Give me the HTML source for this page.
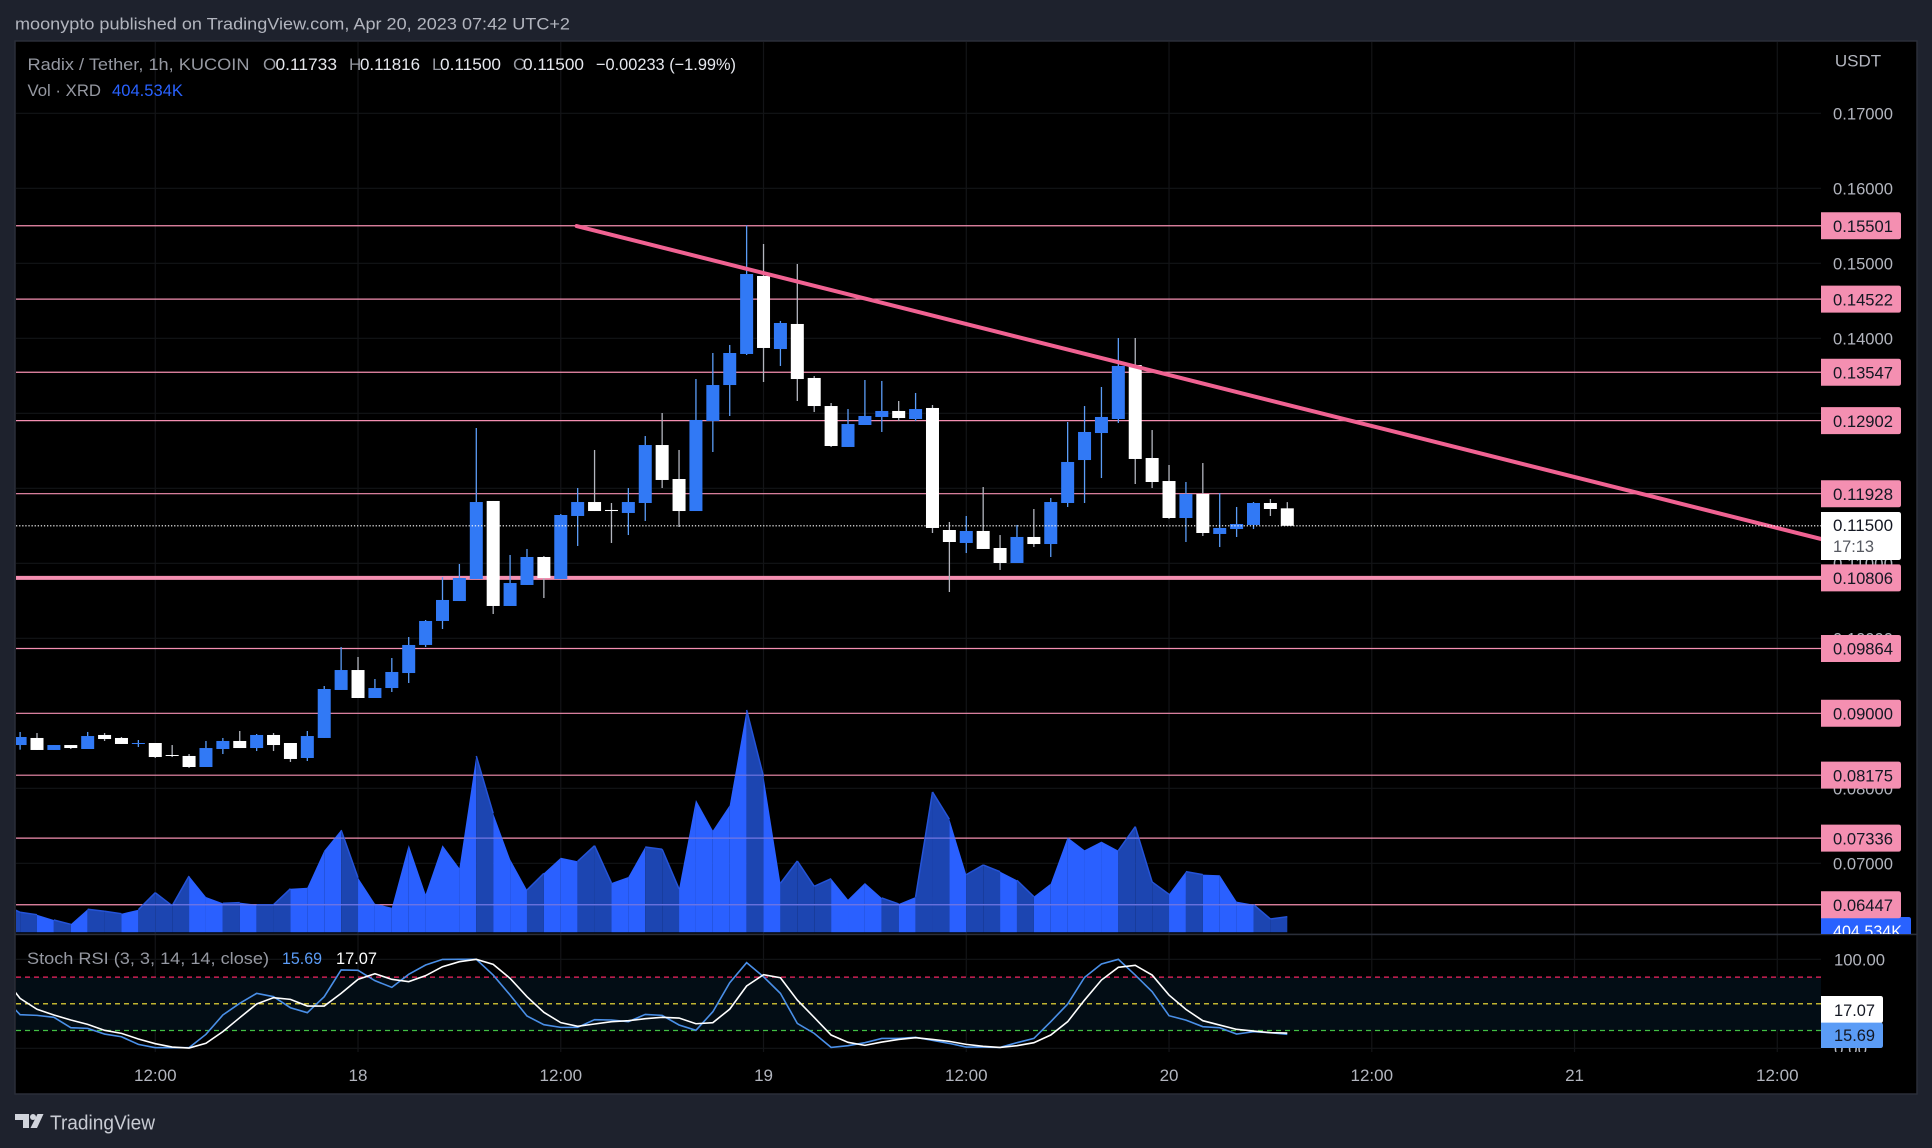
<!DOCTYPE html>
<html lang="en">
<head>
<meta charset="utf-8">
<title>Radix / Tether 1h chart</title>
<style>
html,body{margin:0;padding:0;background:#1e222d;}
svg{display:block;}
text{font-family:"Liberation Sans","DejaVu Sans",sans-serif;}
</style>
</head>
<body>
<svg id="chart" xmlns="http://www.w3.org/2000/svg" width="1932" height="1148" viewBox="0 0 1932 1148">
  <defs>
    <clipPath id="main-clip"><rect x="16" y="42" width="1805" height="892"/></clipPath>
    <clipPath id="stoch-clip"><rect x="16" y="936" width="1805" height="116"/></clipPath>
    <clipPath id="pane-label-clip"><rect x="1821" y="42" width="95" height="892"/></clipPath>
    <clipPath id="stoch-label-clip"><rect x="1821" y="936" width="95" height="116"/></clipPath>
    <clipPath id="volume-clip"><polygon id="volume-clip-shape" points="0,0"/></clipPath>
  </defs>
  <rect x="0" y="0" width="1932" height="1148" fill="#1e222d"/>
  <rect x="15" y="41" width="1902" height="1053" fill="#000000" stroke="#2a2e39" stroke-width="1.5"/>
  <g id="grid-layer"></g>
  <g id="level-layer" clip-path="url(#main-clip)"></g>
  <g id="volume-layer" clip-path="url(#main-clip)"></g>
  <g id="level-overlay-layer" clip-path="url(#volume-clip)"></g>
  <g id="candle-layer" clip-path="url(#main-clip)"></g>
  <g id="drawing-layer" clip-path="url(#main-clip)"></g>
  <g id="stoch-layer" clip-path="url(#stoch-clip)"></g>
  <rect x="15" y="933.6" width="1902" height="1.6" fill="#2a2e39"/>
  <g id="axis-layer"></g>

  <text x="15" y="29.5" font-size="17" fill="#b2b5be" textLength="555" lengthAdjust="spacingAndGlyphs">moonypto published on TradingView.com, Apr 20, 2023 07:42 UTC+2</text>

  <g font-size="17">
    <text x="27.5" y="70" fill="#9598a1" textLength="222" lengthAdjust="spacingAndGlyphs">Radix / Tether, 1h, KUCOIN</text>
    <text x="263" y="70" fill="#9598a1">O</text>
    <text x="275.5" y="70" fill="#e6e8ee" textLength="61.5" lengthAdjust="spacingAndGlyphs">0.11733</text>
    <text x="349" y="70" fill="#9598a1">H</text>
    <text x="360" y="70" fill="#e6e8ee" textLength="60" lengthAdjust="spacingAndGlyphs">0.11816</text>
    <text x="432" y="70" fill="#9598a1">L</text>
    <text x="440" y="70" fill="#e6e8ee" textLength="61" lengthAdjust="spacingAndGlyphs">0.11500</text>
    <text x="513" y="70" fill="#9598a1">C</text>
    <text x="523" y="70" fill="#e6e8ee" textLength="61" lengthAdjust="spacingAndGlyphs">0.11500</text>
    <text x="596" y="70" fill="#e6e8ee" textLength="140" lengthAdjust="spacingAndGlyphs">−0.00233 (−1.99%)</text>
    <text x="27.5" y="96" fill="#9598a1" textLength="73.5" lengthAdjust="spacingAndGlyphs">Vol · XRD</text>
    <text x="112" y="96" fill="#2962ff" textLength="71" lengthAdjust="spacingAndGlyphs">404.534K</text>
  </g>

  <g font-size="17">
    <text x="27" y="964" fill="#9598a1" textLength="242" lengthAdjust="spacingAndGlyphs">Stoch RSI (3, 3, 14, 14, close)</text>
    <text x="282" y="964" fill="#5b9cf6" textLength="40" lengthAdjust="spacingAndGlyphs">15.69</text>
    <text x="336" y="964" fill="#ffffff" textLength="41" lengthAdjust="spacingAndGlyphs">17.07</text>
  </g>

  <g>
    <path d="M15 1114h14v14h-6v-8h-8z" fill="#d1d4dc"/>
    <circle cx="33" cy="1117" r="3" fill="#d1d4dc"/>
    <polygon points="37.5,1114 43.5,1114 37,1128 30.5,1128" fill="#d1d4dc"/>
    <text x="50" y="1129.5" font-size="20" fill="#c8cbd3" textLength="105" lengthAdjust="spacingAndGlyphs">TradingView</text>
  </g>
</svg>

<script>
// ---------- chart data ----------
const candleOpen = [0.08577,0.08671,0.08511,0.08577,0.08524,0.08711,0.08671,0.08595,0.08604,0.08444,
  0.08431,0.08284,0.08524,0.08631,0.08537,0.08711,0.08604,0.08404,0.08671,0.09311,
  0.09577,0.09204,0.09337,0.09537,0.09911,0.10231,0.10497,0.10791,0.11831,0.10431,
  0.10711,0.11084,0.10791,0.11631,0.11817,0.11711,0.11671,0.11804,0.12577,0.12124,
  0.11697,0.12897,0.13377,0.13791,0.14831,0.13857,0.14191,0.13471,0.13097,0.12551,
  0.12844,0.12951,0.13031,0.12924,0.13071,0.11444,0.11271,0.11431,0.11204,0.11004,
  0.11351,0.11257,0.11804,0.12377,0.12737,0.12924,0.13644,0.12404,0.12097,0.11604,
  0.11924,0.11391,0.11457,0.11511,0.11804,0.11733];
const candleHigh = [0.08751,0.08737,0.08577,0.08577,0.08751,0.08737,0.08684,0.08644,0.08604,0.08577,
  0.08457,0.08631,0.08671,0.08764,0.08724,0.08737,0.08604,0.08764,0.09364,0.09884,
  0.09751,0.09457,0.09737,0.10017,0.10244,0.10817,0.10991,0.12804,0.11831,0.11111,
  0.11191,0.11097,0.11657,0.12004,0.12511,0.11804,0.12004,0.12697,0.13004,0.12511,
  0.13457,0.13804,0.13911,0.15506,0.15257,0.14231,0.14991,0.13497,0.13137,0.13057,
  0.13444,0.13431,0.13164,0.13271,0.13111,0.11551,0.11631,0.12017,0.11377,0.11511,
  0.11724,0.11871,0.12884,0.13097,0.13351,0.14004,0.14004,0.12777,0.12311,0.12084,
  0.12337,0.11937,0.11751,0.11817,0.11857,0.11816];
const candleLow = [0.08515,0.08511,0.08511,0.08524,0.08524,0.08631,0.08591,0.08551,0.08404,0.08417,
  0.08271,0.08284,0.08457,0.08537,0.08497,0.08497,0.08351,0.08364,0.08671,0.09311,
  0.09204,0.09204,0.09284,0.09404,0.09884,0.10124,0.10497,0.10791,0.10324,0.10431,
  0.10711,0.10537,0.10791,0.11231,0.11697,0.11271,0.11377,0.11564,0.12004,0.11484,
  0.11697,0.12484,0.12964,0.13777,0.13417,0.13631,0.13164,0.13017,0.12551,0.12551,
  0.12844,0.12751,0.12897,0.12897,0.11404,0.10617,0.11137,0.11191,0.10911,0.11004,
  0.11217,0.11084,0.11751,0.11804,0.12137,0.12871,0.12057,0.12004,0.11591,0.11284,
  0.11364,0.11217,0.11351,0.11457,0.11631,0.11500];
const candleClose = [0.08684,0.08511,0.08577,0.08537,0.08697,0.08657,0.08591,0.08604,0.08417,0.08431,
  0.08284,0.08537,0.08631,0.08537,0.08711,0.08577,0.08391,0.08697,0.09324,0.09577,
  0.09204,0.09337,0.09551,0.09911,0.10231,0.10511,0.10804,0.11817,0.10431,0.10737,
  0.11084,0.10804,0.11644,0.11817,0.11697,0.11697,0.11817,0.12577,0.12111,0.11697,
  0.12911,0.13377,0.13804,0.14857,0.13871,0.14204,0.13457,0.13097,0.12564,0.12857,
  0.12964,0.13031,0.12937,0.13057,0.11471,0.11284,0.11431,0.11191,0.11004,0.11351,
  0.11257,0.11817,0.12351,0.12751,0.12951,0.13631,0.12391,0.12084,0.11604,0.11924,
  0.11404,0.11471,0.11524,0.11804,0.11724,0.11500];
// Volume in thousands; first value is the bar just left of the visible range.
const volumeValues = [725,518,456,319,207,596,544,482,585,1026,689,1458,914,751,767,715,715,1129,1155,2113,2650,
  1414,741,637,2261,984,2253,1658,4566,3082,1891,1096,1528,1932,1839,2243,1277,1432,2209,2150,1122,
  3428,2633,3289,5759,4032,1269,1847,1191,1390,846,1277,889,734,915,3635,2927,1494,1744,1571,1347,
  924,1260,2460,2124,2348,2116,2737,1304,984,1571,1494,1476,794,717,345,404.534];
// 1 = bright segment, 0 = dim segment, for the span following each volume value.
const volumeBright = [0,0,1,0,1,0,0,1,0,0,0,1,1,0,1,0,0,1,1,1,0,1,1,1,1,1,1,1,0,1,1,0,1,1,0,0,1,1,0,0,
  1,1,1,1,0,1,0,0,0,1,1,1,0,1,0,0,1,0,0,1,0,1,1,1,1,1,0,0,0,1,0,1,1,1,0,0];
const stochK = [57.6,37.8,37,34.8,23.2,22.4,16,13,4.4,0.7,0.7,0.7,15.7,37.4,50.5,61.7,58,45.6,40,58,88,
  87.6,76,68.5,83.1,93.6,99.9,100,100,82.3,59.9,36.3,26.5,23.5,23.5,32.2,31.8,29.9,38.1,37,26.2,20.2,
  41.1,73.7,96.2,80.4,61.7,28,16.8,1,2.9,6.3,11.1,11.1,12.3,8.9,5.5,1.4,1.4,1,6.3,11.1,29.9,49.7,79.7,
  94.7,100,82.3,63.6,36.6,31.7,24.3,23.1,16,18.6,17.5,15.69];
const stochD = [80,56.1,43.8,37.4,31.8,26.9,20.2,16.8,10.4,5.2,1.4,0.3,5.6,18.7,34.4,49.8,56.9,55,47.5,47.5,61.7,
  77.5,83.8,77.5,74.9,81.6,91.7,97.3,100,94.3,78.6,58,40.4,28.8,24.7,27.3,29.9,31,33.3,34.8,34,27.6,
  28.8,44,70,82.7,79.3,54.2,34.7,14.9,6.7,3.3,7,10,11.9,10,7.8,4.4,2.2,1,2.9,6.3,14.9,29.9,54.2,76.7,
  91,93.2,82.3,59.8,43.7,31,26.1,21.3,19.4,17.5,17.07];
const levelPrices = [0.15501,0.14522,0.13547,0.12902,0.11928,0.10806,0.09864,0.09000,0.08175,0.07336,0.06447];
const levelLabels = ["0.15501","0.14522","0.13547","0.12902","0.11928","0.10806","0.09864","0.09000","0.08175","0.07336","0.06447"];
const priceTicks = [0.17,0.16,0.15,0.14,0.13,0.12,0.11,0.10,0.09,0.08,0.07];
const priceTickLabels = ["0.17000","0.16000","0.15000","0.14000","0.13000","0.12000","0.11000","0.10000","0.09000","0.08000","0.07000"];
const timeTickLabels = ["12:00","18","12:00","19","12:00","20","12:00","21","12:00"];
const timeTickPositions = [9,21,33,45,57,69,81,93,105];
const trendHours = [33.94,107.6];
const trendPrices = [0.15497,0.11324];
const lastPrice = 0.115;
const stochBands = [80,50,20];
const stochTicks = [100,0];

// ---------- axis functions ----------
const xAt = h => 3.204 + 16.896 * h;          // h = hours after Apr 17 03:00
const yPrice = p => 113.3 + (0.17 - p) * 7500;
const yVolume = v => 932.3 - v / 25.9;
const yStoch = v => 1048.3 - 0.89 * v;

const NS = 'http://www.w3.org/2000/svg';
function make(tag, parent, attrs) {
  const el = document.createElementNS(NS, tag);
  for (const k in attrs) el.setAttribute(k, attrs[k]);
  parent.appendChild(el);
  return el;
}
const gridLayer = document.getElementById('grid-layer');
const levelLayer = document.getElementById('level-layer');
const overlayLayer = document.getElementById('level-overlay-layer');
const volumeLayer = document.getElementById('volume-layer');
const candleLayer = document.getElementById('candle-layer');
const drawingLayer = document.getElementById('drawing-layer');
const stochLayer = document.getElementById('stoch-layer');
const axisLayer = document.getElementById('axis-layer');

// ---------- grid ----------
timeTickPositions.forEach(h => {
  const el = make('line', gridLayer, {x1: xAt(h), x2: xAt(h), y1: 42, y2: 1052, stroke: '#131417', 'stroke-width': 1.2});
  
  
});
priceTicks.forEach(p => {
  const el = make('line', gridLayer, {x1: 16, x2: 1821, y1: yPrice(p), y2: yPrice(p), stroke: '#131417', 'stroke-width': 1.2});
  
  
});
stochTicks.forEach(v => {
  const el = make('line', gridLayer, {x1: 16, x2: 1821, y1: yStoch(v), y2: yStoch(v), stroke: '#131417', 'stroke-width': 1.2});
  
  
});

// ---------- horizontal levels ----------
levelPrices.forEach((p, i) => {
  const width = p === 0.10806 ? 4 : 1.2;
  const el = make('line', levelLayer, {x1: 16, x2: 1821, y1: yPrice(p), y2: yPrice(p), stroke: '#f48fb1', 'stroke-width': width});
  
  
  const over = make('line', overlayLayer, {x1: 16, x2: 1821, y1: yPrice(p), y2: yPrice(p), stroke: '#7377e2', 'stroke-width': width});
  
  
});

// ---------- volume ----------
const clipPoints = ['' + xAt(0) + ',932.3'];
volumeValues.forEach((v, h) => clipPoints.push(xAt(h) + ',' + yVolume(v)));
clipPoints.push(xAt(volumeValues.length - 1) + ',932.3');
document.getElementById('volume-clip-shape').setAttribute('points', clipPoints.join(' '));
for (let h = 0; h < volumeValues.length - 1; h++) {
  const x0 = xAt(h), x1 = xAt(h + 1);
  const y0 = yVolume(volumeValues[h]), y1 = yVolume(volumeValues[h + 1]);
  const bright = volumeBright[h] === 1;
  const seg = make('polygon', volumeLayer, {
    points: x0 + ',932.3 ' + x0 + ',' + y0 + ' ' + x1 + ',' + y1 + ' ' + x1 + ',932.3',
    fill: bright ? '#2a60ff' : '#1c45b1'
  });
  
  
  if (!bright) {
    const top = make('line', volumeLayer, {x1: x0, y1: y0, x2: x1, y2: y1, stroke: '#2453d8', 'stroke-width': 1.5});
    
    
  }
}

// ---------- candles ----------
candleOpen.forEach((open, i) => {
  const close = candleClose[i];
  const up = close >= open;
  const x = xAt(i + 1);
  const wick = make('line', candleLayer, {x1: x, x2: x, y1: yPrice(candleHigh[i]), y2: yPrice(candleLow[i]),
    stroke: up ? '#5b9cf6' : '#b2b5be', 'stroke-width': 1.3});
  
  
  const top = yPrice(Math.max(open, close));
  const h = Math.max(1, yPrice(Math.min(open, close)) - top);
  const body = make('rect', candleLayer, {x: x - 6.5, y: top, width: 13, height: h, fill: up ? '#3179f5' : '#ffffff'});
  
  
});

// ---------- drawings ----------
const trend = make('line', drawingLayer, {x1: xAt(trendHours[0]), y1: yPrice(trendPrices[0]), x2: xAt(trendHours[1]), y2: yPrice(trendPrices[1]),
  stroke: '#f06292', 'stroke-width': 4, 'stroke-linecap': 'round'});


const lastLine = make('line', drawingLayer, {x1: 16, x2: 1821, y1: yPrice(lastPrice), y2: yPrice(lastPrice),
  stroke: '#ffffff', 'stroke-width': 1.2, 'stroke-dasharray': '1.3 1.8'});



// ---------- stoch pane ----------
const band = make('rect', stochLayer, {x: 16, y: yStoch(stochBands[0]), width: 1805, height: yStoch(stochBands[2]) - yStoch(stochBands[0]), fill: '#030d15'});


const bandColors = ['#f2245e', '#ffeb3b', '#43c043'];
stochBands.forEach((v, i) => {
  const el = make('line', stochLayer, {x1: 16, x2: 1821, y1: yStoch(v), y2: yStoch(v), stroke: bandColors[i], 'stroke-width': 1.2, 'stroke-dasharray': '5 4'});
  
  
});
const kLine = make('polyline', stochLayer, {points: stochK.map((v, h) => xAt(h) + ',' + yStoch(v)).join(' '), fill: 'none', stroke: '#4a8fe7', 'stroke-width': 1.6});


const dLine = make('polyline', stochLayer, {points: stochD.map((v, h) => xAt(h) + ',' + yStoch(v)).join(' '), fill: 'none', stroke: '#ffffff', 'stroke-width': 1.6});



// ---------- axes ----------
const axisBg = make('rect', axisLayer, {x: 1821, y: 42, width: 95, height: 891, fill: '#000000'});


const usdt = make('text', axisLayer, {x: 1858, y: 66.5, 'font-size': 17, fill: '#b2b5be', 'text-anchor': 'middle'});
usdt.textContent = 'USDT';


const priceTickGroup = make('g', axisLayer, {'clip-path': 'url(#pane-label-clip)'});


priceTicks.forEach((p, i) => {
  const el = make('text', priceTickGroup, {x: 1833, y: yPrice(p) + 6.2, 'font-size': 17, fill: '#b2b5be', textLength: 60, lengthAdjust: 'spacingAndGlyphs'});
  el.textContent = priceTickLabels[i];
  
  
});
function tag(parent, x, y, w, h, fill, r) {
  const d = 'M' + x + ' ' + y + 'H' + (x + w - r) + 'Q' + (x + w) + ' ' + y + ' ' + (x + w) + ' ' + (y + r) +
    'V' + (y + h - r) + 'Q' + (x + w) + ' ' + (y + h) + ' ' + (x + w - r) + ' ' + (y + h) + 'H' + x + 'Z';
  return make('path', parent, {d: d, fill: fill});
}
// last-price tag
const lastBox = tag(axisLayer, 1821, 512, 80, 48, '#ffffff', 2.5);


const lastText = make('text', axisLayer, {x: 1833, y: 531, 'font-size': 17, fill: '#131722', textLength: 60, lengthAdjust: 'spacingAndGlyphs'});
lastText.textContent = '0.11500';


const countdown = make('text', axisLayer, {x: 1833, y: 552, 'font-size': 17, fill: '#555860', textLength: 41, lengthAdjust: 'spacingAndGlyphs'});
countdown.textContent = '17:13';


// volume tag (clipped by pane)
const volumeTagGroup = make('g', axisLayer, {'clip-path': 'url(#pane-label-clip)'});


const volBox = tag(volumeTagGroup, 1821, 917, 90, 27, '#2962ff', 2.5);


const volText = make('text', volumeTagGroup, {x: 1833, y: 937, 'font-size': 17, fill: '#ffffff', textLength: 69, lengthAdjust: 'spacingAndGlyphs'});
volText.textContent = '404.534K';


// level tags
levelPrices.forEach((p, i) => {
  const y = yPrice(p);
  const box = tag(axisLayer, 1821, y - 13.5, 80, 27, '#f48fb1', 2.5);
  
  
  const t = make('text', axisLayer, {x: 1833, y: y + 6.2, 'font-size': 17, fill: '#131722', textLength: 60, lengthAdjust: 'spacingAndGlyphs'});
  t.textContent = levelLabels[i];
  
  
});
// stoch axis
const stochAxisBg = make('rect', axisLayer, {x: 1821, y: 936, width: 95, height: 116, fill: '#000000'});


const stochLabelGroup = make('g', axisLayer, {'clip-path': 'url(#stoch-label-clip)'});


const stochTickLabels = ['100.00', '0.00'];
const stochTickWidths = [51, 33];
stochTicks.forEach((v, i) => {
  const el = make('text', stochLabelGroup, {x: 1834, y: yStoch(v) + 6.2, 'font-size': 17, fill: '#b2b5be', textLength: stochTickWidths[i], lengthAdjust: 'spacingAndGlyphs'});
  el.textContent = stochTickLabels[i];
  
  
});
const dBox = tag(axisLayer, 1821, 996, 62, 27, '#ffffff', 2.5);


const dText = make('text', axisLayer, {x: 1834, y: 1016, 'font-size': 17, fill: '#131722', textLength: 41, lengthAdjust: 'spacingAndGlyphs'});
dText.textContent = '17.07';


const kBox = tag(axisLayer, 1821, 1022.6, 62, 25.4, '#5b9cf6', 2.5);


const kText = make('text', axisLayer, {x: 1834, y: 1041, 'font-size': 17, fill: '#131722', textLength: 41, lengthAdjust: 'spacingAndGlyphs'});
kText.textContent = '15.69';


// time axis
timeTickPositions.forEach((h, i) => {
  const el = make('text', axisLayer, {x: xAt(h), y: 1081, 'font-size': 17, fill: '#b2b5be', 'text-anchor': 'middle'});
  el.textContent = timeTickLabels[i];
  
  
});
</script>
</body>
</html>
